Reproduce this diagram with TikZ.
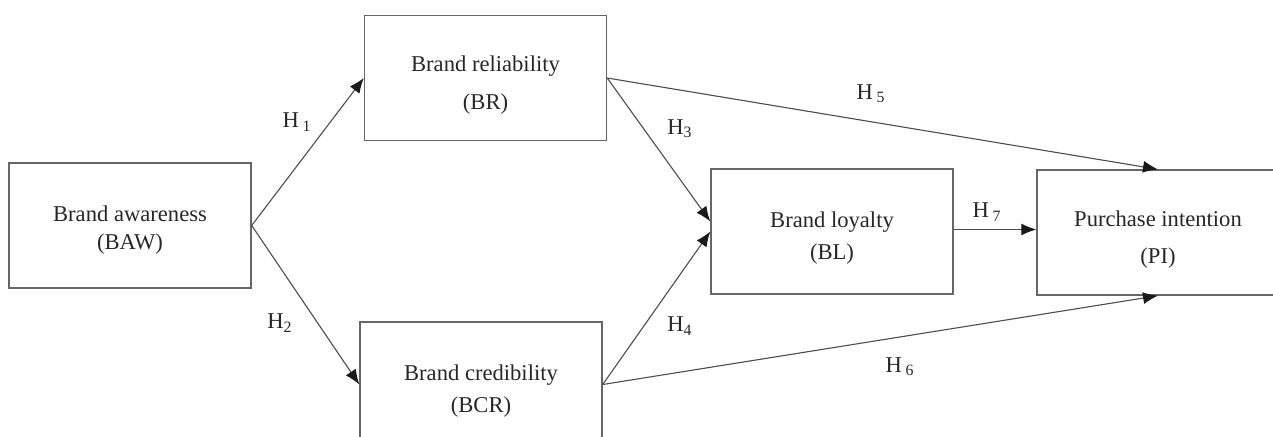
\documentclass[tikz,border=0pt]{standalone}
\usepackage{fontspec}
\setmainfont{Liberation Serif}
\usetikzlibrary{arrows.meta}
\tikzset{
  construct/.style={draw=black!60, line width=0.7pt, minimum width=121pt, minimum height=62.5pt, inner sep=0pt},
  ctext/.style={align=center, text=black!85, inner sep=0pt, yshift=-3.5pt, font=\fontsize{11.3}{14}\selectfont},
  hyp/.style={draw=black!70, line width=0.55pt, -{Latex[length=7.5pt,width=6pt,color=black!90]}},
  hlabel/.style={text=black!85, inner sep=0pt, font=\fontsize{11.3}{14}\selectfont}
}
\begin{document}
\begin{tikzpicture}[x=0.5pt, y=-0.5pt]
	%%%%% FRAME %%%%%
	\useasboundingbox (0,0) rectangle (1273,436);
	
	%%%%% CONSTRUCTS %%%%%
	\node[construct, label={[ctext, yshift=1pt]center:Brand awareness\\[0pt](BAW)}] (BAW) at (130,225.5) {};
	\node[construct, label={[ctext]center:Brand reliability\\[5pt](BR)}] (BR) at (485.5,78) {};
	\node[construct, label={[ctext]center:Brand credibility\\[2pt](BCR)}] (BCR) at (481,384.5) {};
	\node[construct, label={[ctext]center:Brand loyalty\\[2pt](BL)}] (BL) at (832,231.5) {};
	\node[construct, label={[ctext]center:Purchase intention\\[4.5pt](PI)}] (PI) at (1158,232.5) {};
	
	%%%%% HYPOTHESES %%%%%
	\draw[hyp] (BAW.east) -- (BR.west);
	\draw[hyp] (BAW.east) -- (BCR.west);
	\draw[hyp] (BR.east) -- ([yshift=5pt]BL.west);
	\draw[hyp] (BCR.east) -- (BL.west);
	\draw[hyp] (BR.east) -- (PI.north);
	\draw[hyp] (BCR.east) -- (PI.south);
	\draw[hyp] ([yshift=1pt]BL.east) -- ([yshift=1pt]BL.east -| PI.west);
	
	\node[hlabel] (h1) at (297,122) {H\,\textsubscript{1}};
	\node[hlabel] (h2) at (280,323) {H\textsubscript{2}};
	\node[hlabel] (h3) at (680,129) {H\textsubscript{3}};
	\node[hlabel] (h4) at (680,326) {H\textsubscript{4}};
	\node[hlabel] (h5) at (871,94) {H\,\textsubscript{5}};
	\node[hlabel] (h6) at (900,367) {H\,\textsubscript{6}};
	\node[hlabel] (h7) at (987,212) {H\,\textsubscript{7}};
\end{tikzpicture}
\end{document}
